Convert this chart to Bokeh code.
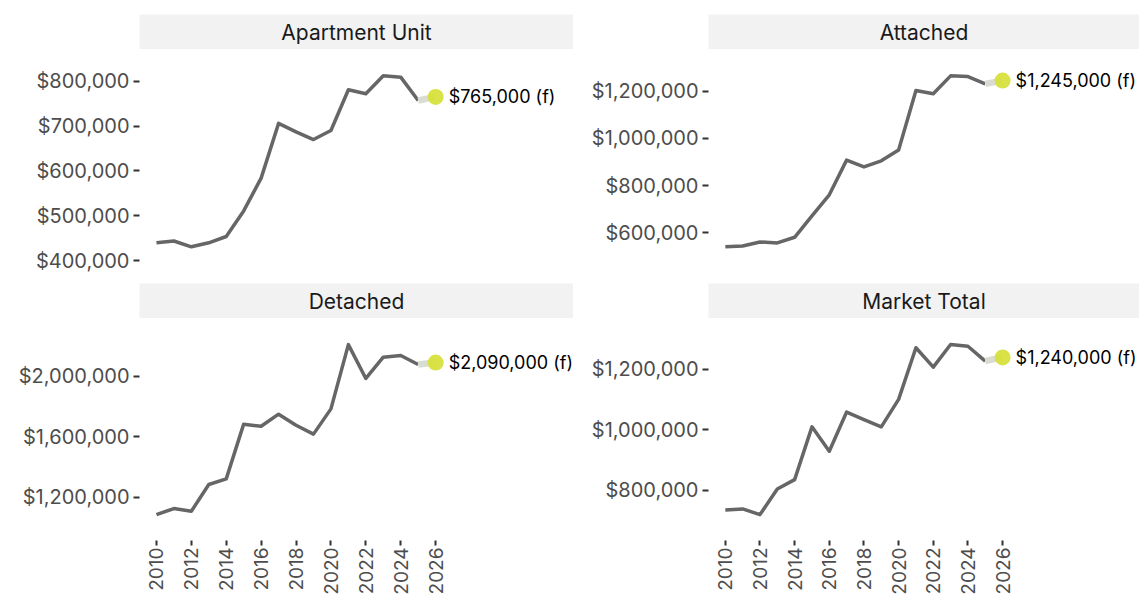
import math
from bokeh.plotting import figure
from bokeh.layouts import column, row
from bokeh.models import Range1d, FixedTicker, NumeralTickFormatter, ColumnDataSource
from bokeh.core.properties import value
from bokeh.embed import file_html
from bokeh.resources import INLINE

# ---------------- data ----------------
years = [2010, 2011, 2012, 2013, 2014, 2015, 2016, 2017, 2018, 2019, 2020,
         2021, 2022, 2023, 2024, 2025]
forecast_year = 2026

apartment = [440000, 444000, 431000, 440000, 454000, 511000, 584000, 706000,
             687000, 670000, 690000, 781000, 772000, 812000, 809000, 757000]
attached = [541000, 544000, 561000, 557000, 581000, 672000, 761000, 908000,
            879000, 905000, 951000, 1203000, 1189000, 1265000, 1262000, 1231000]
detached = [1085000, 1125000, 1107000, 1284000, 1321000, 1683000, 1669000, 1749000,
            1676000, 1617000, 1784000, 2209000, 1985000, 2126000, 2137000, 2077000]
market = [734000, 738000, 719000, 804000, 835000, 1010000, 929000, 1059000,
          1034000, 1010000, 1101000, 1272000, 1208000, 1283000, 1277000, 1228000]

forecast_apartment = 765000
forecast_attached = 1245000
forecast_detached = 2090000
forecast_market = 1240000

facet_titles = ["Apartment Unit", "Attached", "Detached", "Market Total"]

x_ticks = [2010, 2012, 2014, 2016, 2018, 2020, 2022, 2024, 2026]
ticks_apartment = [400000, 500000, 600000, 700000, 800000]
ticks_attached = [600000, 800000, 1000000, 1200000]
ticks_detached = [1200000, 1600000, 2000000]
ticks_market = [800000, 1000000, 1200000]

# ---------------- style ----------------
FONT = "Inter"
LINE_COLOR = "#666666"
FC_LINE_COLOR = "#d9dcd3"
DOT_COLOR = "#d7e03c"
STRIP_BG = "#f2f2f2"

X_RANGE = (2009.03, 2033.9)
Y_RANGES = {
    "Apartment Unit": (376000, 870600),
    "Attached": (436000, 1376700),
    "Detached": (913700, 2381500),
    "Market Total": (633300, 1369000),
}


def strip(title, left_border, fw, top_border):
    s = figure(frame_width=fw, frame_height=35,
               min_border_left=left_border, min_border_right=0,
               min_border_top=top_border, min_border_bottom=0,
               x_range=Range1d(0, 1), y_range=Range1d(0, 1),
               x_axis_type=None, y_axis_type=None,
               toolbar_location=None, output_backend="svg")
    s.grid.visible = False
    s.background_fill_color = STRIP_BG
    s.border_fill_color = "white"
    s.outline_line_color = None
    s.text(x=[0.5], y=[0.5], text=[title], text_align="center",
           text_baseline="middle", text_font=value(FONT),
           text_font_size="21px", text_color="#1a1a1a")
    return s


def panel(title, vals, fc, yticks, left_border, fw, bottom_border, show_x):
    kw = {}
    if not show_x:
        kw["x_axis_location"] = None
    p = figure(frame_width=fw, frame_height=222,
               min_border_left=left_border, min_border_right=0,
               min_border_top=0, min_border_bottom=bottom_border,
               x_range=Range1d(*X_RANGE), y_range=Range1d(*Y_RANGES[title]),
               toolbar_location=None, output_backend="svg", **kw)
    p.grid.visible = False
    p.outline_line_color = None
    p.background_fill_color = "white"

    src = ColumnDataSource(dict(x=years, y=vals))
    p.line("x", "y", source=src, line_color=LINE_COLOR, line_width=3.5,
           line_join="round")
    fsrc = ColumnDataSource(dict(x=[years[-1], forecast_year], y=[vals[-1], fc]))
    p.line("x", "y", source=fsrc, line_color=FC_LINE_COLOR, line_width=6.5)
    dsrc = ColumnDataSource(dict(x=[forecast_year], y=[fc],
                                 label=["${:,.0f} (f)".format(fc)]))
    p.scatter("x", "y", source=dsrc, size=16, fill_color=DOT_COLOR,
              line_color=None, fill_alpha=0.95)
    p.text("x", "y", text="label", source=dsrc, x_offset=13,
           text_baseline="middle", text_align="left",
           text_font=value(FONT), text_font_size="18px", text_color="#000000")

    for ax in p.yaxis:
        ax.ticker = FixedTicker(ticks=yticks)
        ax.formatter = NumeralTickFormatter(format="$0,0")
        ax.axis_line_color = None
        ax.major_tick_line_color = "#333333"
        ax.major_tick_line_width = 2
        ax.major_tick_out = 6
        ax.major_tick_in = 0
        ax.minor_tick_line_color = None
        ax.major_label_standoff = 4
        ax.major_label_text_font = FONT
        ax.major_label_text_font_size = "20px"
        ax.major_label_text_color = "#4d4d4d"
    if show_x:
        for ax in p.xaxis:
            ax.ticker = FixedTicker(ticks=x_ticks)
            ax.axis_line_color = None
            ax.major_tick_line_color = "#333333"
            ax.major_tick_line_width = 2
            ax.major_tick_out = 5
            ax.major_tick_in = 0
            ax.minor_tick_line_color = None
            ax.major_label_standoff = 2
            ax.major_label_orientation = math.pi / 2
            ax.major_label_text_font = FONT
            ax.major_label_text_font_size = "19px"
            ax.major_label_text_color = "#4d4d4d"
    return p


s1 = strip(facet_titles[0], 139, 434, 14)
p1 = panel(facet_titles[0], apartment, forecast_apartment, ticks_apartment, 139, 434, 12, False)
s3 = strip(facet_titles[2], 139, 434, 0)
p3 = panel(facet_titles[2], detached, forecast_detached, ticks_detached, 139, 434, 0, True)

s2 = strip(facet_titles[1], 135, 431, 14)
p2 = panel(facet_titles[1], attached, forecast_attached, ticks_attached, 135, 431, 12, False)
s4 = strip(facet_titles[3], 135, 431, 0)
p4 = panel(facet_titles[3], market, forecast_market, ticks_market, 135, 431, 0, True)

layout = row(column(s1, p1, s3, p3, spacing=0), column(s2, p2, s4, p4, spacing=0), spacing=0)

open("out.html", "w").write(file_html(layout, INLINE))
